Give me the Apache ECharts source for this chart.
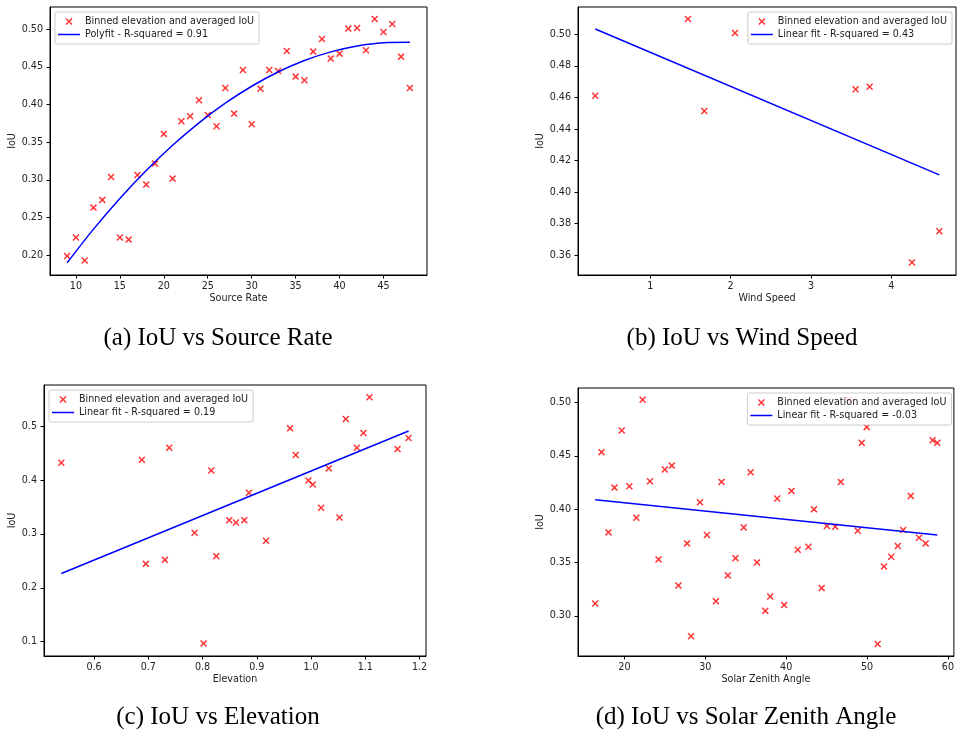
<!DOCTYPE html>
<html>
<head>
<meta charset="utf-8">
<script src="https://cdn.jsdelivr.net/npm/echarts@6/dist/echarts.min.js"></script>
<style>
  html, body { margin: 0; padding: 0; background: #fff; }
  #chart { width: 957px; height: 731px; }
</style>
</head>
<body>
<div id="chart"></div>
<script>
// (a) IoU against source rate, binned, with a quadratic fit
const rateX = [9,10,11,12,13,14,15,16,17,18,19,20,21,22,23,24,25,26,27,28,29,30,31,32,33,34,35,36,37,38,39,40,41,42,43,44,45,46,47,48];
const rateIoU = [0.199,0.2235,0.193,0.2633,0.2735,0.304,0.2235,0.2208,0.3066,0.2938,0.3217,0.3611,0.3018,0.3779,0.3845,0.4058,0.3863,0.3712,0.4221,0.3881,0.446,0.3739,0.4212,0.446,0.4447,0.4712,0.4372,0.4323,0.4704,0.4872,0.4611,0.4677,0.5009,0.5018,0.4721,0.5137,0.4965,0.5071,0.4637,0.4221];
const rateFitX = [9,12,15,18,21,24,27,30,33,36,39,42,45,48];
const rateFitY = [0.190,0.2347,0.2754,0.3125,0.346,0.3758,0.4019,0.4244,0.4433,0.4585,0.470,0.4779,0.4822,0.4828];

// (b) IoU against wind speed, with a linear fit
const windX = [0.315,1.469,1.672,2.054,3.556,3.730,4.257,4.598];
const windIoU = [0.4611,0.5097,0.4514,0.5008,0.4652,0.4668,0.3554,0.3752];
const windFitX = [0.315,4.598];
const windFitY = [0.5034,0.4109];

// (c) IoU against elevation, with a linear fit
const elevX = [0.5397,0.688,0.6954,0.7305,0.7385,0.7852,0.8018,0.816,0.8252,0.8492,0.8615,0.8769,0.8855,0.9169,0.9612,0.9717,0.9951,1.0031,1.0185,1.0326,1.0523,1.064,1.0843,1.0966,1.1077,1.1594,1.1797];
const elevIoU = [0.4324,0.438,0.2445,0.2519,0.4603,0.3022,0.0963,0.4181,0.2588,0.3257,0.3214,0.3257,0.3766,0.2873,0.4963,0.4467,0.3995,0.3921,0.3487,0.4219,0.3307,0.5136,0.4603,0.4876,0.554,0.4578,0.4783];
const elevFitX = [0.5397,1.1797];
const elevFitY = [0.2265,0.4913];

// (d) IoU against solar zenith angle, with a linear fit
const szaX = [16.39,17.17,18.03,18.77,19.67,20.61,21.48,22.25,23.16,24.22,25.0,25.86,26.68,27.75,28.24,29.34,30.2,31.31,32.01,32.79,33.73,34.75,35.61,36.39,37.42,38.03,38.89,39.75,40.66,41.43,42.75,43.44,44.39,45.04,46.07,46.76,47.7,48.85,49.34,49.96,51.31,52.09,52.99,53.81,54.47,55.41,56.43,57.25,58.11,58.69];
const szaIoU = [0.3116,0.4534,0.3782,0.4202,0.4737,0.4214,0.392,0.5025,0.4261,0.3529,0.4371,0.4408,0.3285,0.3679,0.2809,0.4064,0.3757,0.3138,0.4255,0.3379,0.3541,0.3829,0.4346,0.3501,0.3047,0.3182,0.4099,0.3103,0.4171,0.362,0.3648,0.3998,0.326,0.3842,0.3836,0.4255,0.5025,0.3798,0.4621,0.4768,0.2737,0.3463,0.3554,0.3654,0.3804,0.4124,0.3732,0.3679,0.4646,0.4621];
const szaFitX = [16.39,58.69];
const szaFitY = [0.4089,0.3757];

// tick labels
const rateTicks = [10,15,20,25,30,35,40,45];
const rateIoUTicks = [0.20,0.25,0.30,0.35,0.40,0.45,0.50];
const windTicks = [1,2,3,4];
const windIoUTicks = [0.36,0.38,0.40,0.42,0.44,0.46,0.48,0.50];
const elevTicks = [0.6,0.7,0.8,0.9,1.0,1.1,1.2];
const elevIoUTicks = [0.1,0.2,0.3,0.4,0.5];
const szaTicks = [20,30,40,50,60];
const szaIoUTicks = [0.30,0.35,0.40,0.45,0.50];

const scatterName = 'Binned elevation and averaged IoU';
const fitNames = ['Polyfit - R-squared = 0.91', 'Linear fit - R-squared = 0.43', 'Linear fit - R-squared = 0.19', 'Linear fit - R-squared = -0.03'];
const captions = ['(a) IoU vs Source Rate', '(b) IoU vs Wind Speed', '(c) IoU vs Elevation', '(d) IoU vs Solar Zenith Angle'];
const xNames = ['Source Rate', 'Wind Speed', 'Elevation', 'Solar Zenith Angle'];

const zip = (xs, ys) => xs.map((x, i) => [x, ys[i]]);
const SANS = 'DejaVu Sans';
const FS = 9.6;
const INK = '#222';
const CROSS = 'path://M0,1.5L1.5,0L5,3.5L8.5,0L10,1.5L6.5,5L10,8.5L8.5,10L5,6.5L1.5,10L0,8.5L3.5,5Z';
const BAR = 'path://M0,0H22V1.5H0Z';

const grids = [
  { left: 50, top: 7, width: 377, height: 268 },
  { left: 578, top: 7, width: 378, height: 268 },
  { left: 44, top: 385, width: 382, height: 271 },
  { left: 578, top: 388, width: 378, height: 268 }
].map(g => Object.assign({ show: true, borderColor: '#000', borderWidth: 1, backgroundColor: '#fff' }, g));

function xAxis(i, min, max, ticks, digits, name) {
  return {
    type: 'value', gridIndex: i, min: min, max: max,
    name: name, nameLocation: 'middle', nameGap: 18.5,
    nameTextStyle: { fontFamily: SANS, fontSize: FS, color: INK },
    axisLine: { show: true, lineStyle: { color: '#000', width: 1 } },
    axisTick: { show: true, length: 3.5, customValues: ticks, lineStyle: { color: '#000' } },
    axisLabel: { customValues: ticks, margin: 6.5, fontFamily: SANS, fontSize: FS, color: INK,
      formatter: v => Number(v).toFixed(digits) },
    splitLine: { show: false }
  };
}
function yAxis(i, min, max, ticks, digits, gap) {
  return {
    type: 'value', gridIndex: i, min: min, max: max,
    name: 'IoU', nameLocation: 'middle', nameGap: gap,
    nameTextStyle: { fontFamily: SANS, fontSize: FS, color: INK },
    axisLine: { show: true, lineStyle: { color: '#000', width: 1 } },
    axisTick: { show: true, length: 3.5, customValues: ticks, lineStyle: { color: '#000' } },
    axisLabel: { customValues: ticks, margin: 7, fontFamily: SANS, fontSize: FS, color: INK,
      formatter: v => Number(v).toFixed(digits) },
    splitLine: { show: false }
  };
}

function scatter(i, xs, ys) {
  return {
    type: 'scatter', name: scatterName, xAxisIndex: i, yAxisIndex: i,
    data: zip(xs, ys), symbol: CROSS, symbolSize: 7,
    itemStyle: { color: '#ff0000' }, z: 2, silent: true
  };
}
function fit(i, xs, ys, smooth) {
  return {
    type: 'line', name: fitNames[i], xAxisIndex: i, yAxisIndex: i,
    data: zip(xs, ys), showSymbol: false, symbol: 'none', smooth: smooth,
    lineStyle: { color: '#0000ff', width: 1.5 }, itemStyle: { color: '#0000ff' },
    z: 3, silent: true
  };
}

function legend(i, pos) {
  return Object.assign({
    orient: 'vertical', selectedMode: false,
    data: [{ name: scatterName, icon: CROSS }, { name: fitNames[i], icon: BAR }],
    itemWidth: 22, itemHeight: 7, itemGap: 2,
    padding: [4, 5, 4, 3],
    backgroundColor: 'rgba(255,255,255,0.8)',
    borderColor: '#cccccc', borderWidth: 1, borderRadius: 2,
    textStyle: { fontFamily: SANS, fontSize: FS, color: INK, lineHeight: 11 }
  }, pos);
}

const capFont = '25px "Liberation Serif", "DejaVu Serif", serif';
const capPos = [[218, 338], [742, 338], [218, 717], [746, 717]];

const option = {
  backgroundColor: '#fff',
  animation: false,
  grid: grids,
  xAxis: [
    xAxis(0, 7.05, 49.95, rateTicks, 0, xNames[0]),
    xAxis(1, 0.1, 4.805, windTicks, 0, xNames[1]),
    xAxis(2, 0.5077, 1.2118, elevTicks, 1, xNames[2]),
    xAxis(3, 14.26, 60.74, szaTicks, 0, xNames[3])
  ],
  yAxis: [
    yAxis(0, 0.1738, 0.5296, rateIoUTicks, 2, 32),
    yAxis(1, 0.3475, 0.5173, windIoUTicks, 2, 32.5),
    yAxis(2, 0.0732, 0.5769, elevIoUTicks, 1, 27),
    yAxis(3, 0.2624, 0.5135, szaIoUTicks, 2, 32.5)
  ],
  legend: [
    legend(0, { left: 55, top: 12 }),
    legend(1, { right: 5, top: 12 }),
    legend(2, { left: 49, top: 390 }),
    legend(3, { right: 5.5, top: 393 })
  ],
  series: [
    scatter(0, rateX, rateIoU), fit(0, rateFitX, rateFitY, 0.3),
    scatter(1, windX, windIoU), fit(1, windFitX, windFitY, false),
    scatter(2, elevX, elevIoU), fit(2, elevFitX, elevFitY, false),
    scatter(3, szaX, szaIoU), fit(3, szaFitX, szaFitY, false)
  ],
  graphic: captions.map((t, i) => ({
    type: 'text', x: capPos[i][0], y: capPos[i][1],
    style: { text: t, font: capFont, fill: '#000', align: 'center', verticalAlign: 'middle' }
  }))
};

const chart = echarts.init(document.getElementById('chart'), null, { renderer: 'canvas' });
chart.setOption(option);
</script>
</body>
</html>
